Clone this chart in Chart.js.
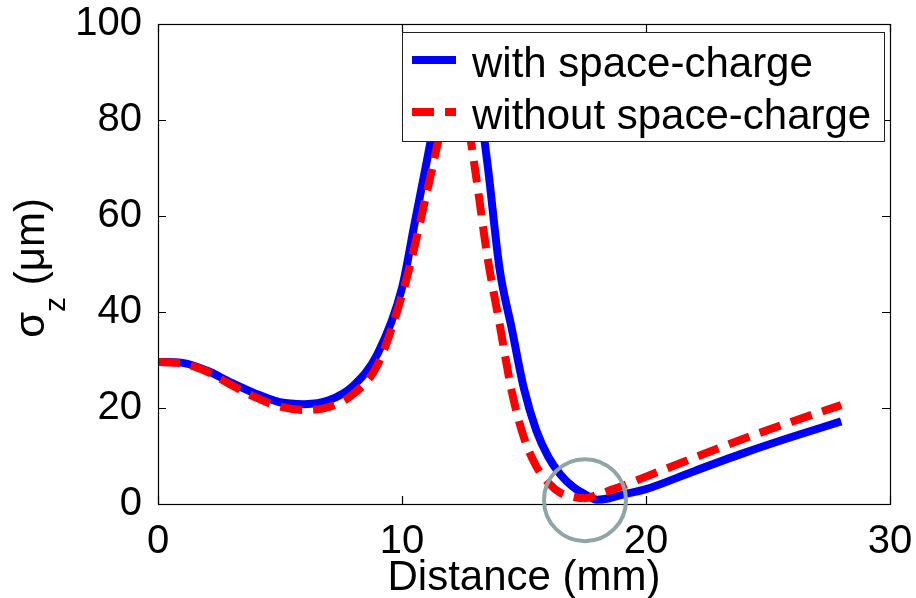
<!DOCTYPE html>
<html>
<head>
<meta charset="utf-8">
<script src="https://cdn.jsdelivr.net/npm/chart.js@4/dist/chart.umd.min.js"></script>
<style>
  html, body { margin: 0; padding: 0; background: #fff; }
  canvas { display: block; }
</style>
</head>
<body>
<canvas id="sigma-chart" width="916" height="598"></canvas>
<script>
// Bunch length along the beamline
const distance = [0, 1, 2, 3, 4, 5, 6, 7, 8, 9, 10, 10.5, 11, 11.5, 12, 12.5, 13, 13.5, 14, 14.5, 15, 15.5, 16, 16.5, 17, 17.5, 18, 18.5, 19, 20, 22, 24, 26, 28];
const withSC = [29.6, 29.4, 27.8, 25.3, 23.0, 21.2, 20.8, 21.6, 24.6, 31.3, 45.0, 58.0, 71.0, 84.0, 94.0, 96.0, 89.0, 71.0, 49.0, 36.5, 24.0, 15.4, 9.8, 6.1, 3.6, 2.0, 0.9, 1.2, 1.9, 3.1, 6.9, 10.6, 14.0, 17.2];
const withoutSC = [29.6, 29.3, 27.6, 24.8, 22.2, 20.3, 19.6, 20.2, 22.9, 29.0, 43.5, 53.3, 64.5, 76.0, 88.0, 85.0, 69.5, 51.5, 37.5, 23.4, 13.8, 7.9, 4.4, 2.3, 1.5, 1.2, 1.9, 2.8, 3.7, 5.7, 9.7, 13.6, 17.2, 20.6];
const seriesLabels = ['with space-charge', 'without space-charge'];
const xTicks = [0, 10, 20, 30];
const yTicks = [0, 20, 40, 60, 80, 100];
// waist marked with a circle
const waist = { x: 17.5, y: 0.8 };

const FONT = '"Liberation Sans", Arial, sans-serif';

function points(ys) {
  return distance.map((d, i) => ({ x: d, y: ys[i] }));
}

// frame, inward ticks, axis titles, circle and legend
const decorations = {
  id: 'decorations',
  afterDraw(chart) {
    const ctx = chart.ctx;
    const { left, right, top, bottom } = chart.chartArea;
    const xs = chart.scales.x, ys = chart.scales.y;
    const tick = 8;

    ctx.save();
    ctx.strokeStyle = '#000';
    ctx.lineWidth = 1.2;
    ctx.strokeRect(left + 0.5, top + 0.5, right - left, bottom - top);
    ctx.beginPath();
    xTicks.forEach(v => {
      const px = Math.round(xs.getPixelForValue(v)) + 0.5;
      ctx.moveTo(px, bottom); ctx.lineTo(px, bottom - tick);
      ctx.moveTo(px, top); ctx.lineTo(px, top + tick);
    });
    yTicks.forEach(v => {
      const py = Math.round(ys.getPixelForValue(v)) + 0.5;
      ctx.moveTo(left, py); ctx.lineTo(left + tick, py);
      ctx.moveTo(right, py); ctx.lineTo(right - tick, py);
    });
    ctx.stroke();

    // circle around the focus
    ctx.strokeStyle = '#8fa5a6';
    ctx.lineWidth = 4;
    ctx.beginPath();
    ctx.arc(xs.getPixelForValue(waist.x), ys.getPixelForValue(waist.y), 41, 0, Math.PI * 2);
    ctx.stroke();

    // x title
    ctx.fillStyle = '#000';
    ctx.font = '42px ' + FONT;
    ctx.textAlign = 'center';
    ctx.textBaseline = 'alphabetic';
    ctx.fillText('Distance (mm)', (left + right) / 2, 590);

    // y title with subscript
    ctx.save();
    ctx.translate(44, (top + bottom) / 2 + 4);
    ctx.rotate(-Math.PI / 2);
    ctx.textAlign = 'left';
    const big = '42px ' + FONT, small = '30px ' + FONT;
    ctx.font = big; const wS = ctx.measureText('σ').width;
    ctx.font = small; const wZ = ctx.measureText('z').width;
    ctx.font = big; const wU = ctx.measureText(' (μm)').width;
    let x0 = -(wS + wZ + wU) / 2;
    ctx.font = big; ctx.fillText('σ', x0, 0); x0 += wS;
    ctx.font = small; ctx.fillText('z', x0, 21); x0 += wZ;
    ctx.font = big; ctx.fillText(' (μm)', x0, 0);
    ctx.restore();

    // legend
    const bw = 482, bh = 109;
    const bx = right - 6 - bw, by = top + 8;
    ctx.fillStyle = '#fff';
    ctx.fillRect(bx, by, bw, bh);
    ctx.strokeStyle = '#222';
    ctx.lineWidth = 1;
    ctx.strokeRect(bx + 0.5, by + 0.5, bw, bh);
    chart.data.datasets.forEach((ds, i) => {
      const rowY = by + 28 + i * 52;
      ctx.strokeStyle = ds.borderColor;
      ctx.lineWidth = ds.borderWidth;
      ctx.setLineDash(ds.borderDash || []);
      ctx.beginPath();
      ctx.moveTo(bx + 10, rowY);
      ctx.lineTo(bx + 54, rowY);
      ctx.stroke();
      ctx.setLineDash([]);
      ctx.fillStyle = '#000';
      ctx.font = '42px ' + FONT;
      ctx.textAlign = 'left';
      ctx.fillText(ds.label, bx + 70, rowY + 16.5);
    });
    ctx.restore();
  }
};

new Chart(document.getElementById('sigma-chart'), {
  type: 'line',
  data: {
    datasets: [
      {
        label: seriesLabels[0],
        data: points(withSC),
        borderColor: '#0000ff',
        borderWidth: 8,
        pointRadius: 0,
        cubicInterpolationMode: 'monotone',
        order: 1
      },
      {
        label: seriesLabels[1],
        data: points(withoutSC),
        borderColor: '#ff0000',
        borderWidth: 8,
        borderDash: [22, 11],
        pointRadius: 0,
        cubicInterpolationMode: 'monotone',
        order: 0
      }
    ]
  },
  options: {
    responsive: false,
    animation: false,
    layout: { padding: { top: 24, right: 26, left: 0, bottom: 0 } },
    plugins: { legend: { display: false }, tooltip: { enabled: false } },
    scales: {
      x: {
        type: 'linear', min: 0, max: 30,
        afterBuildTicks: s => { s.ticks = xTicks.map(v => ({ value: v })); },
        afterFit: s => { s.height = 94; s.paddingLeft = 0; s.paddingRight = 0; },
        ticks: { color: '#000', font: { family: FONT, size: 40 }, padding: 6, maxRotation: 0 },
        grid: { display: false },
        border: { display: false }
      },
      y: {
        min: 0, max: 100,
        afterBuildTicks: s => { s.ticks = yTicks.map(v => ({ value: v })); },
        afterFit: s => { s.width = 158; s.paddingTop = 0; s.paddingBottom = 0; },
        ticks: { color: '#000', font: { family: FONT, size: 40 }, padding: 8 },
        grid: { display: false },
        border: { display: false }
      }
    }
  },
  plugins: [decorations]
});
</script>
</body>
</html>
